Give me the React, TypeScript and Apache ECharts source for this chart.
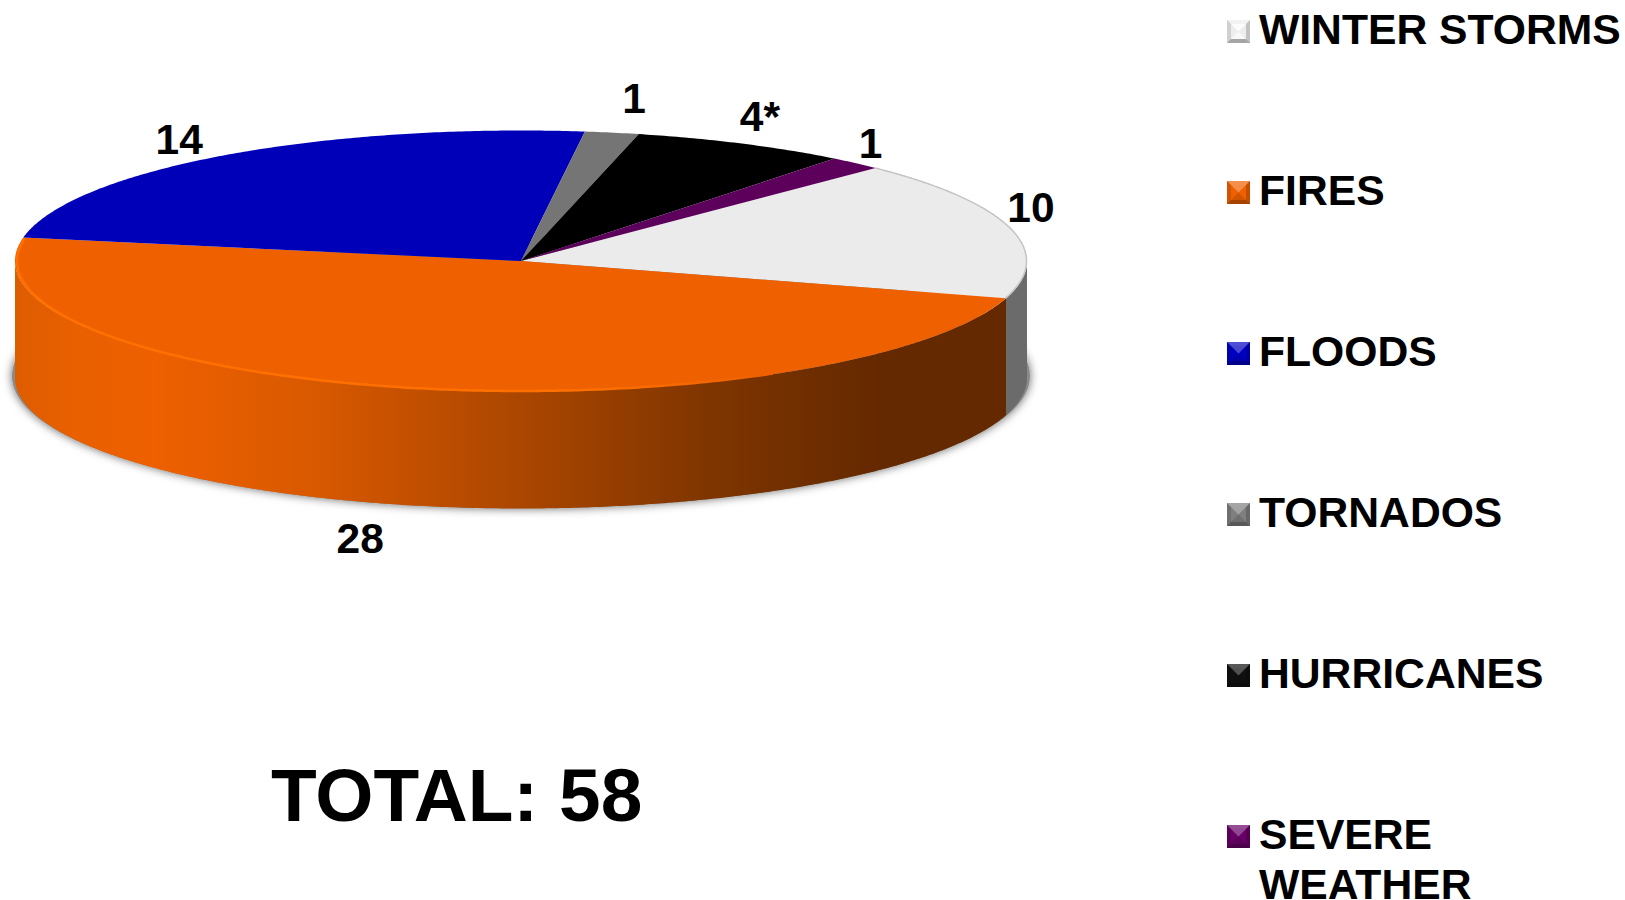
import React, { useEffect, useRef } from "react";
import * as echarts from "echarts";

const categories = ["WINTER STORMS", "FIRES", "FLOODS", "TORNADOS", "HURRICANES", "SEVERE WEATHER"];
const values = [10, 28, 14, 1, 4, 1];
const valueLabels = ["10", "28", "14", "1", "4*", "1"];
const sliceColors = ["#EBEBEB", "#EE6000", "#0000B8", "#757575", "#000000", "#5C005C"];
const legendColors = ["#EDEDED", "#EE6000", "#0000C4", "#7F7F7F", "#101010", "#680068"];
const labelOffsets = [[20, -21], [-43, 151], [-43, -16], [22, -34], [18, -27], [15, -20]];
const totalLabel = "TOTAL: 58";

const FONT = '"Liberation Sans", Arial, sans-serif';
const CX = 521, CY = 261, RX = 506, RY = 130.5, DEPTH = 117, START = 45.5;
const LEG_X = 1227, LEG_Y = 20, LEG_STEP = 161, ICON = 23;
const TOTAL = values.reduce((a, b) => a + b, 0);

const rim = (deg: number, dy = 0, k = 1): number[] => {
  const a = (deg * Math.PI) / 180;
  return [CX + RX * k * Math.cos(a), CY - RY * k * Math.sin(a) + dy];
};
const arc = (from: number, to: number, dy = 0, k = 1): number[][] => {
  const n = Math.max(2, Math.ceil(Math.abs(to - from) * 2));
  const out: number[][] = [];
  for (let i = 0; i <= n; i++) out.push(rim(from + ((to - from) * i) / n, dy, k));
  return out;
};

const wallFill = (i: number): any =>
  i === 1
    ? {
        type: "linear", x: 0, y: 0, x2: 1, y2: 0,
        colorStops: [
          { offset: 0, color: "#DE5C00" },
          { offset: 0.06, color: "#E86000" },
          { offset: 0.14, color: "#EE6000" },
          { offset: 0.3, color: "#D95900" },
          { offset: 0.5, color: "#AD4700" },
          { offset: 0.7, color: "#7F3500" },
          { offset: 0.87, color: "#652900" },
          { offset: 1, color: "#652900" },
        ],
      }
    : "#6B6B6B";

const makeRender = (i: number) => (_p: any, api: any) => {
  const before = values.slice(0, i).reduce((a, b) => a + b, 0);
  const a0 = START - (before / TOTAL) * 360;
  const a1 = a0 - (api.value(0) / TOTAL) * 360;
  const children: any[] = [];

  // front wall: only the part of the rim below the horizontal axis is visible
  const w0 = Math.min(a0, 0);
  const w1 = Math.max(a1, -180);
  if (w0 > w1) {
    children.push({
      type: "polygon",
      shape: { points: [...arc(w0, w1), ...arc(w1, w0, DEPTH)] },
      style: { fill: wallFill(i), stroke: null },
    });
  }
  // top face
  children.push({
    type: "polygon",
    shape: { points: [[CX, CY], ...arc(a0, a1)] },
    style: { fill: sliceColors[i], stroke: null },
    z2: 2,
  });
  // rim shading
  if (i === 1) {
    children.push({
      type: "polyline",
      shape: { points: arc(-190, -60, 0, 0.996) },
      style: {
        fill: null, lineWidth: 2.5,
        stroke: {
          type: "linear", x: 0, y: 0, x2: 1, y2: 0,
          colorStops: [
            { offset: 0, color: "#FF7000" },
            { offset: 0.75, color: "#FF7000" },
            { offset: 1, color: "#EE6000" },
          ],
        },
      },
      z2: 3,
    });
  }
  if (i === 0) {
    children.push({
      type: "polyline",
      shape: { points: arc(a0, a1, 0, 0.999) },
      style: { fill: null, lineWidth: 1.5, stroke: "#C4C4C4" },
      z2: 3,
    });
  }
  // value label
  const [lx, ly] = rim((a0 + a1) / 2);
  children.push({
    type: "text",
    style: {
      text: valueLabels[i],
      x: lx + labelOffsets[i][0],
      y: ly + labelOffsets[i][1],
      fill: "#000",
      font: `bold 42.5px ${FONT}`,
      align: "center",
      verticalAlign: "middle",
    },
    z2: 5,
  });
  return { type: "group", children };
};

const bevels = (): any[] => {
  const out: any[] = [];
  categories.forEach((_, i) => {
    const x = LEG_X, y = LEG_Y + i * LEG_STEP, s = ICON, m = s / 2, b = 4;
    const shape = (fill: string, points: number[][]) => ({
      type: "polygon", z: 20, silent: true, shape: { points }, style: { fill },
    });
    out.push(
      shape(i === 0 ? "rgba(255,255,255,.8)" : "rgba(255,255,255,.28)", [[x + b, y + b], [x + s - b, y + b], [x + m, y + m]]),
      shape(i === 0 ? "rgba(255,255,255,.6)" : "rgba(0,0,0,.12)", [[x + b, y + s - b], [x + s - b, y + s - b], [x + m, y + m]]),
      shape("rgba(255,255,255,.3)", [[x, y], [x + s, y], [x + s - b, y + b], [x + b, y + b]]),
      shape("rgba(0,0,0,.3)", [[x, y + s], [x + s, y + s], [x + s - b, y + s - b], [x + b, y + s - b]]),
      shape("rgba(0,0,0,.12)", [[x, y], [x + b, y + b], [x + b, y + s - b], [x, y + s]]),
      shape("rgba(0,0,0,.18)", [[x + s, y], [x + s - b, y + b], [x + s - b, y + s - b], [x + s, y + s]])
    );
  });
  return out;
};

// The icon sits 6px below the top of its 29px slot, which lifts the text 3px above the icon's centre.
const legendBase = {
  orient: "vertical",
  left: LEG_X,
  height: 1400,
  padding: 0,
  itemWidth: ICON,
  itemHeight: ICON + 6,
  itemGap: LEG_STEP - 50,
  icon: "path://M0 0L0 0M0 6L23 6L23 29L0 29Z",
  selectedMode: false,
  textStyle: {
    fontFamily: FONT, fontWeight: "bold", fontSize: 42.67, color: "#000",
    lineHeight: 50, padding: [0, 0, 0, 4],
  },
};

export default function App() {
  const ref = useRef<HTMLDivElement>(null);
  useEffect(() => {
    const chart = echarts.init(ref.current!, undefined, { renderer: "svg" });
    chart.setOption({
      animation: false,
      backgroundColor: "#fff",
      title: {
        text: totalLabel,
        left: 271,
        top: 750,
        padding: 0,
        textStyle: { fontFamily: FONT, fontWeight: "bold", fontSize: 74.8, color: "#000", lineHeight: 90 },
      },
      legend: [
        { ...legendBase, top: LEG_Y - 16.5, data: categories.slice(0, 5) },
        {
          // two-line entry: a blank first line keeps SEVERE level with its icon
          ...legendBase,
          top: LEG_Y + 5 * LEG_STEP - 66.5,
          data: categories.slice(5),
          formatter: () => "\nSEVERE\nWEATHER",
        },
      ],
      graphic: {
        elements: [
          {
            type: "ellipse", z: -1, silent: true,
            shape: { cx: CX, cy: 376, rx: RX + 3, ry: RY + 2 },
            style: { fill: "#8a8a8a", shadowBlur: 10, shadowColor: "rgba(0,0,0,.6)" },
          },
          ...bevels(),
        ],
      },
      series: categories.map((name, i) => ({
        type: "custom",
        name,
        coordinateSystem: "none",
        clip: false,
        silent: true,
        itemStyle: { color: legendColors[i] },
        data: [[values[i]]],
        renderItem: makeRender(i),
      })),
    });
    return () => chart.dispose();
  }, []);
  return <div ref={ref} style={{ position: "fixed", left: 0, top: 0, width: 1625, height: 900 }} />;
}
